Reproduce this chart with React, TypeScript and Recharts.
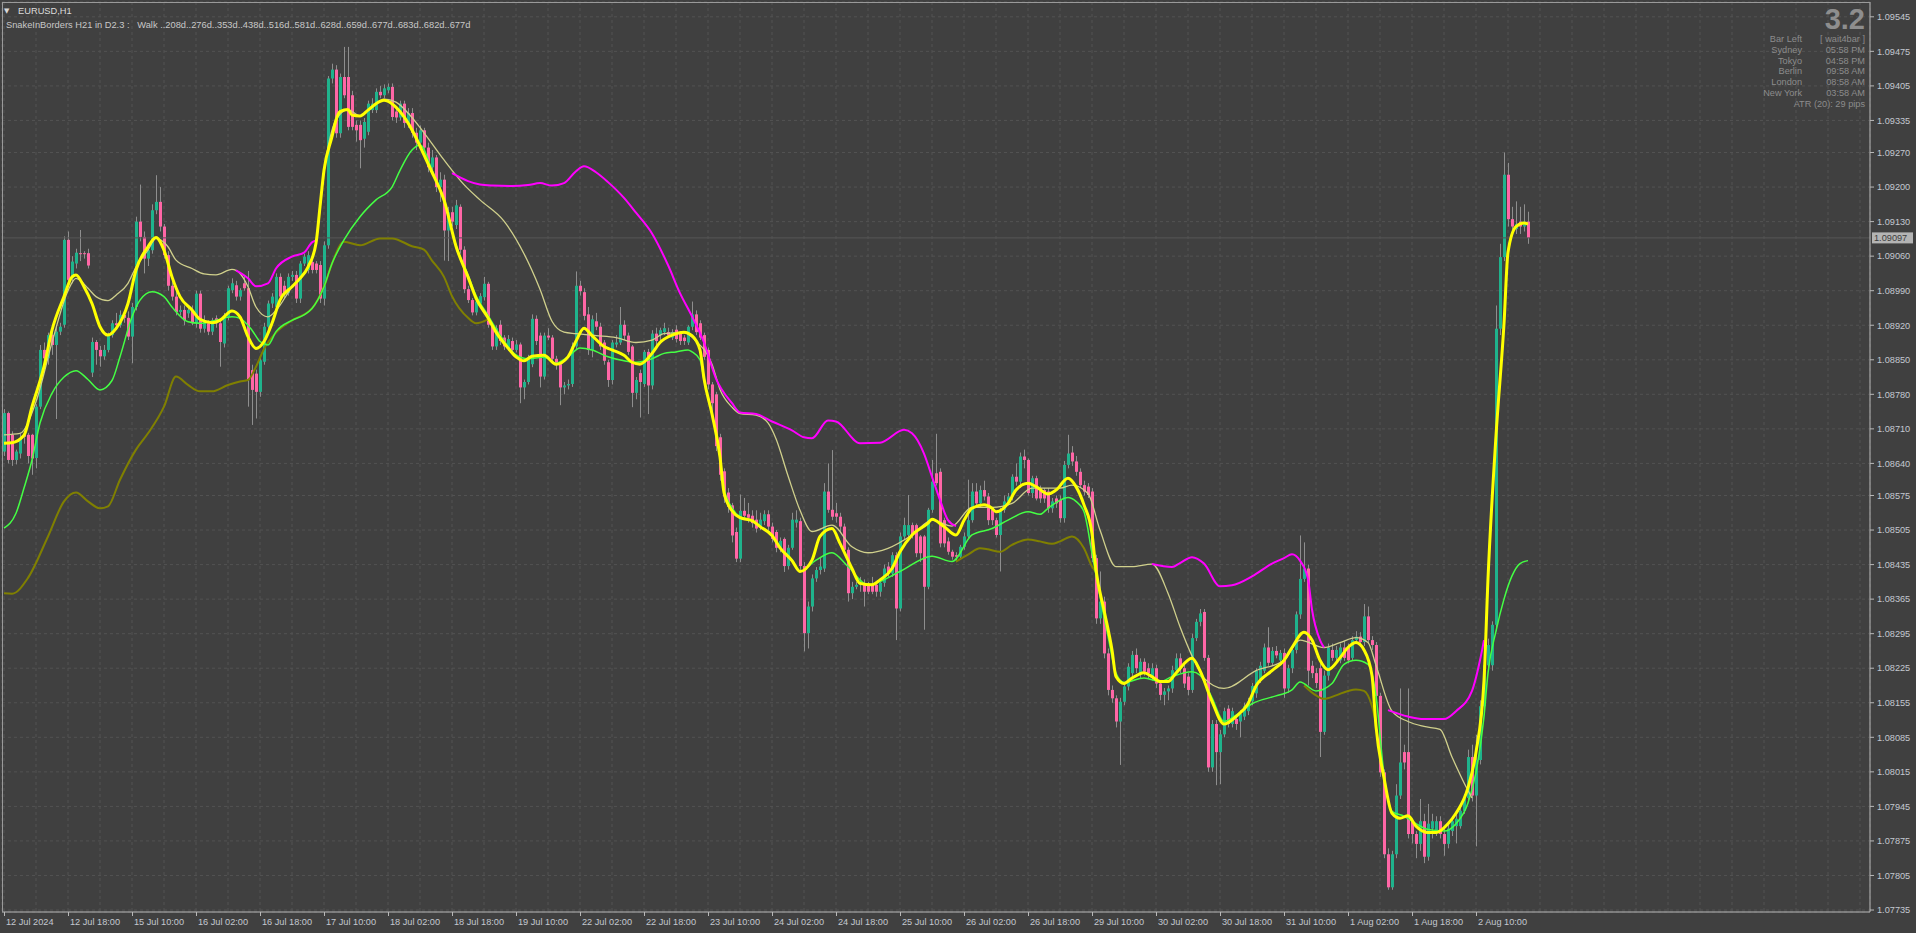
import React from "react";
import { ComposedChart, Bar, Line, XAxis, YAxis, CartesianGrid, ReferenceLine } from "recharts";

// prices are kept in points (0.00001) above BASE
const BASE = 1.07;
const toPrice = (p: number) => Math.round((BASE + p / 100000) * 100000) / 100000;

// hourly candles [open, high, low, close]
const jul12: number[][] = [
  [1664,1750,1655,1742],[1742,1745,1640,1647],[1698,1705,1635,1647],[1647,1668,1638,1664],[1660,1700,1650,1690],[1698,1705,1680,1694],
  [1698,1702,1640,1655],[1698,1700,1617,1650],[1651,1760,1630,1755],[1755,1880,1750,1870],[1870,1885,1845,1853],[1853,1905,1840,1900],
  [1900,1910,1860,1880],[1880,1920,1730,1907],[1907,1925,1900,1917],[1921,2100,1915,2093],[2093,2110,2000,2012],[2015,2060,2005,2049],
  [2045,2075,2035,2067],[2066,2113,2050,2064],[2066,2070,2055,2064],[2066,2075,2035,2041],
];

const jul15to19: number[][] = [
  // 15 Jul
  [1824,1895,1815,1886],[1886,1890,1840,1870],[1870,1878,1836,1857],[1857,1880,1850,1870],[1870,1905,1865,1900],[1900,1930,1895,1924],
  [1924,1945,1915,1920],[1920,1950,1915,1941],[1941,1950,1925,1935],[1935,1948,1890,1897],[1897,1965,1843,1957],[1957,2140,1950,2130],
  [2130,2205,2090,2099],[2099,2110,2025,2055],[2055,2080,2040,2072],[2072,2165,2065,2153],[2153,2224,2145,2170],[2170,2200,2110,2120],
  [2120,2125,2055,2062],[2062,2070,1990,2000],[2000,2020,1970,1978],[1978,1990,1940,1947],[1947,1960,1940,1951],[1951,1960,1920,1930],
  // 16 Jul
  [1944,1958,1935,1951],[1951,1960,1920,1924],[1924,1990,1915,1984],[1984,1990,1905,1913],[1913,1940,1905,1930],[1924,1930,1900,1907],
  [1907,1935,1900,1930],[1934,1940,1915,1924],[1924,1930,1836,1886],[1883,1945,1875,1937],[1937,2000,1930,1995],[1991,2015,1985,2005],
  [2001,2010,1970,1978],[1978,1995,1970,1991],[2005,2020,1990,1995],[1995,2030,1755,1809],[1829,1840,1718,1789],[1822,1830,1731,1785],
  [1785,1855,1775,1849],[1846,1925,1840,1917],[1917,1970,1910,1964],[1964,1985,1955,1978],[1957,2025,1950,2018],[2018,2025,1970,1978],
  // 17 Jul
  [2000,2010,1975,1985],[1985,2025,1980,2018],[2018,2030,2010,2022],[2022,2030,1965,1974],[1974,2050,1965,2045],[2045,2065,2040,2059],
  [2032,2070,2025,2062],[2048,2060,2025,2032],[2045,2050,2025,2032],[2042,2050,1965,1974],[1974,2090,1960,2082],[2082,2425,2075,2420],
  [2420,2450,2410,2438],[2438,2447,2300,2309],[2309,2430,2300,2423],[2423,2484,2380,2386],[2423,2484,2315,2322],[2386,2395,2315,2322],
  [2326,2335,2292,2315],[2326,2335,2238,2295],[2298,2340,2280,2332],[2312,2375,2305,2369],[2356,2380,2350,2369],[2356,2400,2350,2393],
  // 18 Jul
  [2393,2405,2380,2386],[2386,2408,2380,2400],[2396,2410,2390,2403],[2403,2410,2335,2342],[2353,2360,2330,2341],[2341,2375,2335,2369],
  [2369,2375,2320,2330],[2330,2360,2320,2350],[2350,2360,2300,2310],[2310,2320,2275,2290],[2290,2325,2285,2315],[2315,2320,2270,2280],
  [2280,2290,2230,2240],[2240,2275,2225,2260],[2260,2265,2190,2200],[2200,2230,2170,2215],[2215,2225,2051,2112],[2112,2160,2050,2149],
  [2149,2160,2120,2130],[2123,2174,2115,2163],[2160,2165,2065,2073],[2073,2080,1985,1993],[1993,2000,1965,1971],[1971,1975,1940,1946],
  // 19 Jul
  [1946,1972,1940,1968],[1964,1985,1960,1979],[1977,2018,1970,2004],[2004,2008,1915,1921],[1921,1925,1870,1877],[1877,1920,1870,1914],
  [1921,1930,1880,1888],[1895,1900,1870,1877],[1874,1900,1868,1892],[1888,1895,1865,1870],[1870,1890,1865,1881],[1881,1885,1762,1794],
  [1794,1810,1770,1805],[1805,1860,1800,1852],[1841,1942,1835,1933],[1933,1940,1880,1888],[1899,1905,1794,1816],[1816,1905,1810,1899],
  [1899,1914,1890,1895],[1895,1900,1845,1852],[1852,1858,1830,1841],[1841,1845,1758,1794],[1794,1805,1780,1798],[1798,1810,1790,1801],
];

const jul22to26: number[][] = [
  // 22 Jul
  [1801,1885,1795,1877],[1877,2029,1870,2000],[2000,2010,1980,1989],[1987,1995,1930,1939],[1942,1957,1860,1870],[1870,1940,1855,1932],
  [1928,1945,1910,1917],[1917,1925,1870,1877],[1885,1890,1840,1848],[1845,1850,1795,1809],[1809,1890,1800,1885],[1881,1900,1875,1885],
  [1885,1957,1880,1921],[1921,1930,1890,1899],[1899,1905,1860,1866],[1877,1880,1754,1783],[1783,1815,1770,1809],[1823,1830,1733,1805],
  [1801,1870,1795,1866],[1866,1872,1740,1798],[1798,1910,1790,1903],[1903,1915,1880,1888],[1900,1915,1885,1910],[1906,1925,1900,1914],
  // 23 Jul
  [1906,1915,1895,1899],[1895,1912,1890,1906],[1911,1920,1885,1892],[1903,1908,1880,1888],[1895,1900,1880,1888],[1885,1920,1880,1917],
  [1917,1968,1910,1942],[1942,1950,1900,1906],[1924,1930,1890,1895],[1900,1905,1850,1856],[1870,1875,1790,1800],[1800,1805,1740,1762],
  [1780,1785,1665,1675],[1693,1700,1605,1617],[1624,1630,1560,1573],[1581,1590,1540,1552],[1555,1560,1480,1494],[1501,1510,1440,1447],
  [1447,1577,1440,1544],[1544,1570,1525,1534],[1537,1560,1520,1530],[1534,1545,1510,1519],[1526,1545,1500,1508],[1512,1540,1505,1526],
  // 24 Jul
  [1523,1545,1515,1537],[1537,1545,1505,1512],[1512,1520,1480,1487],[1501,1505,1460,1469],[1469,1490,1460,1483],[1487,1490,1420,1432],
  [1432,1475,1425,1469],[1469,1540,1465,1526],[1520,1545,1510,1526],[1523,1530,1420,1432],[1432,1440,1259,1296],[1296,1360,1265,1350],
  [1350,1415,1340,1407],[1407,1430,1400,1424],[1424,1450,1415,1431],[1427,1600,1420,1583],[1583,1640,1540,1546],[1546,1667,1525,1532],
  [1539,1560,1520,1532],[1532,1540,1500,1512],[1512,1518,1455,1465],[1465,1470,1360,1377],[1377,1400,1365,1390],[1390,1400,1385,1394],
  // 25 Jul
  [1394,1410,1380,1398],[1397,1405,1350,1380],[1394,1400,1375,1380],[1394,1410,1375,1380],[1394,1400,1370,1380],[1380,1405,1370,1398],
  [1398,1435,1390,1427],[1431,1440,1410,1417],[1417,1460,1410,1454],[1454,1460,1282,1346],[1346,1500,1340,1492],[1492,1530,1485,1515],
  [1495,1576,1490,1515],[1515,1520,1488,1495],[1515,1518,1450,1458],[1492,1495,1440,1458],[1492,1495,1303,1390],[1390,1550,1385,1546],
  [1546,1647,1540,1603],[1620,1700,1595,1600],[1623,1630,1470,1478],[1525,1530,1470,1478],[1482,1490,1455,1461],[1461,1465,1445,1451],
  // 26 Jul
  [1454,1460,1440,1451],[1451,1475,1445,1471],[1471,1500,1465,1492],[1492,1607,1488,1525],[1525,1600,1520,1583],[1583,1600,1555,1559],
  [1559,1595,1550,1586],[1586,1605,1565,1573],[1573,1580,1515,1525],[1546,1550,1515,1525],[1525,1530,1490,1495],[1495,1550,1421,1546],
  [1546,1575,1540,1563],[1563,1580,1555,1573],[1573,1618,1565,1613],[1613,1640,1595,1603],[1603,1662,1590,1654],[1654,1668,1630,1647],
  [1647,1650,1575,1580],[1580,1615,1570,1610],[1610,1615,1565,1569],[1590,1595,1560,1569],[1586,1590,1560,1569],[1583,1590,1540,1549],
];

const jul29toAug2: number[][] = [
  // 29 Jul
  [1549,1570,1540,1563],[1569,1575,1550,1559],[1566,1575,1520,1529],[1529,1645,1520,1637],[1637,1698,1630,1660],[1662,1675,1635,1644],
  [1644,1655,1615,1623],[1623,1630,1590,1596],[1596,1605,1575,1583],[1593,1600,1570,1576],[1583,1590,1440,1448],[1448,1455,1315,1326],
  [1326,1421,1315,1360],[1360,1370,1245,1255],[1255,1265,1170,1181],[1181,1190,1155,1164],[1164,1170,1105,1117],[1117,1165,1029,1157],
  [1157,1195,1150,1188],[1188,1235,1180,1228],[1215,1260,1205,1252],[1252,1265,1215,1225],[1215,1245,1205,1238],[1238,1245,1210,1218],
  // 30 Jul
  [1225,1235,1205,1215],[1208,1235,1200,1225],[1225,1232,1185,1194],[1194,1200,1160,1171],[1171,1185,1150,1178],[1178,1190,1160,1184],
  [1184,1230,1175,1221],[1221,1255,1215,1245],[1245,1255,1215,1225],[1225,1232,1185,1194],[1208,1215,1170,1181],[1181,1295,1175,1286],
  [1286,1325,1280,1319],[1319,1345,1310,1336],[1339,1345,1240,1246],[1246,1252,1015,1024],[1024,1120,1015,1112],[1112,1120,988,1055],
  [1055,1100,990,1091],[1091,1145,1085,1138],[1143,1150,1105,1112],[1112,1145,1105,1138],[1122,1130,1100,1112],[1117,1140,1085,1132],
  // 31 Jul
  [1127,1155,1120,1148],[1138,1165,1130,1158],[1158,1195,1150,1189],[1174,1225,1165,1220],[1200,1238,1195,1230],[1220,1275,1215,1267],
  [1267,1308,1230,1236],[1236,1268,1230,1260],[1260,1270,1245,1251],[1241,1262,1235,1256],[1256,1265,1165,1184],[1184,1232,1175,1225],
  [1225,1270,1215,1262],[1262,1340,1255,1334],[1334,1494,1325,1406],[1406,1480,1400,1427],[1427,1435,1190,1220],[1230,1240,1205,1215],
  [1215,1225,1185,1195],[1225,1235,1045,1096],[1096,1220,1090,1210],[1210,1275,1200,1267],[1262,1275,1240,1246],[1246,1270,1240,1262],
  // 1 Aug
  [1241,1275,1235,1267],[1267,1280,1240,1246],[1267,1275,1235,1241],[1246,1290,1240,1282],[1282,1300,1275,1289],[1289,1298,1270,1278],
  [1278,1355,1270,1330],[1330,1350,1275,1282],[1282,1290,1262,1272],[1272,1278,1160,1169],[1169,1175,1005,1014],[1014,1020,840,848],
  [848,860,776,781],[781,855,776,848],[848,990,840,967],[967,1184,960,1034],[1055,1070,1020,1034],[1055,1184,880,889],
  [915,920,870,889],[889,895,840,869],[869,960,855,915],[915,930,830,843],[843,950,835,910],[900,930,880,915],
  // 2 Aug
  [895,925,885,915],[915,925,880,889],[889,900,845,869],[869,910,860,900],[895,925,885,915],[905,935,870,920],
  [905,945,900,936],[936,970,930,962],[962,1060,955,1045],[1045,1070,955,967],[967,1090,864,1039],[1039,1160,1030,1148],
  [1148,1240,1140,1231],[1231,1285,1225,1272],[1231,1320,1220,1313],[1313,1960,1300,1913],[1913,2085,1900,2058],[2058,2270,2050,2225],
  [2225,2249,2120,2135],[2135,2160,2100,2120],[2115,2171,2105,2125],[2130,2160,2105,2120],[2120,2165,2110,2130],[2130,2150,2085,2097],
];

// indicator lines: [bar index, points]
const snakeLine: number[][] = [
  [0,1681],[2,1682],[5,1697],[7,1755],[10,1836],[12,1910],[15,1978],[17,2018],[18,2022],[20,1998],[22,1964],[24,1917],[26,1900],
  [28,1913],[31,1964],[33,2032],[36,2079],[38,2098],[40,2072],[42,2018],[44,1978],[47,1951],[49,1932],[52,1925],[54,1930],[57,1949],
  [59,1937],[61,1897],[63,1873],[65,1887],[67,1924],[69,1971],[72,1998],[74,2015],[76,2038],[78,2086],[79,2160],[80,2234],[82,2302],
  [83,2336],[84,2353],[86,2357],[87,2346],[89,2344],[91,2356],[93,2369],[95,2376],[97,2369],[99,2353],[101,2330],[103,2300],[105,2265],
  [107,2230],[109,2195],[110,2174],[113,2080],[116,2018],[118,1975],[121,1935],[123,1906],[126,1874],[128,1856],[130,1848],[132,1857],
  [135,1859],[138,1841],[141,1856],[143,1888],[145,1914],[147,1899],[150,1877],[152,1870],[155,1859],[157,1845],[159,1841],[162,1863],
  [164,1885],[167,1900],[170,1906],[172,1899],[174,1870],[175,1812],[177,1740],[179,1653],[180,1581],[182,1544],[184,1530],[187,1524],
  [189,1512],[192,1494],[194,1469],[197,1443],[199,1421],[202,1444],[204,1492],[207,1508],[209,1478],[212,1427],[214,1397],[217,1394],
  [219,1404],[222,1427],[224,1461],[227,1495],[231,1519],[232,1527],[235,1512],[238,1495],[240,1525],[242,1549],[245,1556],[247,1549],
  [248,1542],[251,1559],[253,1586],[256,1600],[258,1593],[261,1578],[263,1586],[266,1610],[268,1593],[270,1556],[272,1498],[273,1424],
  [275,1343],[277,1262],[278,1208],[280,1194],[282,1205],[285,1216],[287,1208],[289,1198],[291,1198],[293,1215],[297,1245],[299,1220],
  [302,1158],[305,1112],[308,1127],[311,1153],[313,1189],[317,1220],[320,1241],[322,1267],[325,1298],[327,1282],[329,1241],[331,1222],
  [334,1246],[336,1267],[338,1277],[340,1262],[342,1210],[343,1107],[345,1003],[347,931],[349,921],[351,926],[353,905],[356,892],
  [358,892],[361,910],[363,931],[366,983],[368,1055],[370,1200],[371,1406],[373,1696],[375,1923],[376,2068],[378,2120],[380,2127],[381,2125],
];

const borderLine: number[][] = [
  [0,1698],[4,1701],[8,1765],[12,1885],[16,1990],[18,2015],[21,1995],[23,1978],[26,1970],[28,1981],[31,2005],[33,2038],[36,2072],
  [38,2096],[41,2079],[43,2052],[47,2035],[50,2024],[53,2022],[57,2033],[59,2025],[61,1998],[63,1957],[66,1937],[68,1950],[72,1998],
  [76,2038],[78,2086],[80,2230],[83,2336],[86,2357],[89,2344],[92,2362],[95,2378],[98,2372],[101,2350],[105,2310],[110,2255],[115,2205],
  [119,2174],[125,2131],[130,2065],[134,1993],[137,1928],[140,1906],[143,1903],[148,1899],[153,1895],[158,1885],[162,1890],[165,1903],
  [170,1905],[173,1888],[177,1841],[179,1790],[182,1754],[184,1741],[188,1738],[191,1722],[193,1690],[196,1615],[199,1545],[202,1502],
  [207,1515],[212,1471],[216,1459],[221,1468],[227,1495],[232,1525],[237,1513],[242,1551],[247,1551],[252,1559],[257,1590],[264,1590],
  [267,1596],[271,1579],[274,1505],[278,1431],[282,1431],[287,1436],[291,1377],[294,1309],[297,1250],[300,1205],[305,1184],[313,1220],
  [320,1241],[324,1282],[330,1267],[334,1277],[338,1287],[341,1277],[343,1231],[347,1138],[351,1117],[355,1107],[359,1101],[362,1045],
  [365,993],[367,962],
];

const greenLine: number[][] = [
  [0,1509],[3,1539],[5,1590],[7,1647],[9,1722],[12,1782],[15,1815],[18,1828],[21,1810],[24,1789],[27,1808],[29,1856],[32,1937],
  [34,1971],[37,1988],[40,1978],[42,1957],[46,1927],[49,1924],[53,1930],[57,1937],[59,1934],[62,1910],[64,1887],[66,1880],[68,1907],
  [72,1930],[75,1941],[77,1954],[80,1998],[82,2045],[85,2093],[89,2140],[93,2174],[97,2200],[99,2234],[102,2275],[104,2285],[107,2235],
  [110,2172],[113,2082],[116,2022],[118,1980],[121,1940],[124,1900],[128,1860],[131,1852],[135,1855],[138,1843],[141,1856],[144,1874],
  [147,1870],[151,1856],[155,1848],[158,1845],[162,1852],[165,1863],[168,1866],[171,1870],[172,1866],[174,1850],[175,1810],[177,1740],
  [179,1653],[180,1590],[182,1550],[184,1532],[187,1525],[189,1513],[192,1495],[194,1470],[197,1445],[199,1421],[203,1444],[207,1459],
  [211,1431],[216,1394],[224,1421],[232,1452],[237,1441],[242,1495],[247,1508],[251,1525],[256,1542],[259,1537],[261,1549],[266,1571],
  [268,1563],[270,1542],[272,1458],[274,1370],[276,1290],[278,1215],[280,1196],[285,1205],[289,1198],[292,1208],[297,1218],[299,1211],
  [302,1165],[305,1117],[308,1130],[312,1153],[318,1169],[322,1181],[324,1197],[328,1179],[332,1194],[335,1233],[338,1241],[341,1233],
  [343,1169],[345,1010],[347,935],[350,925],[353,910],[356,898],[360,895],[363,910],[366,952],[368,1014],[370,1127],[371,1215],[373,1300],
  [375,1365],[377,1412],[379,1437],[381,1443],
];

const oliveA: number[][] = [
  [0,1377],[2,1376],[6,1408],[11,1492],[15,1563],[18,1581],[21,1563],[24,1549],[26,1553],[29,1607],[33,1668],[36,1701],[40,1755],
  [43,1816],[46,1799],[49,1786],[52,1786],[56,1799],[59,1806],[61,1809],[63,1836],[65,1872],[68,1905],[72,1930],[77,1954],[80,1998],
  [82,2045],[85,2089],[89,2082],[94,2096],[97,2096],[102,2080],[105,2073],[107,2051],[110,2018],[112,1979],[116,1935],[118,1924],[121,1932],
];
const oliveB: number[][] = [
  [238,1441],[241,1455],[244,1468],[246,1466],[249,1461],[252,1475],[256,1486],[259,1482],[262,1477],[264,1482],[267,1492],[270,1468],
  [272,1431],[273,1420],
];
const oliveC: number[][] = [
  [325,1190],[328,1170],[330,1163],[333,1170],[336,1179],[338,1182],[340,1179],[342,1148],[343,1115],
];

const magentaA: number[][] = [
  [58,2031],[61,2015],[63,1999],[66,2005],[68,2035],[72,2059],[75,2067],[77,2088],[78,2092],
];
const magentaB: number[][] = [
  [112,2228],[116,2212],[119,2205],[122,2203],[127,2202],[131,2204],[134,2208],[137,2203],[140,2208],[143,2232],[145,2242],[148,2230],
  [151,2210],[155,2178],[158,2148],[162,2106],[166,2042],[169,1985],[172,1938],[175,1885],[178,1812],[182,1762],[184,1743],[188,1740],
  [192,1725],[197,1707],[200,1693],[202,1691],[206,1727],[208,1725],[214,1681],[219,1682],[225,1708],[227,1701],[230,1660],[232,1613],
  [234,1566],[236,1525],[238,1513],
];
const magentaC: number[][] = [
  [287,1436],[292,1430],[294,1438],[297,1450],[300,1437],[304,1391],[307,1393],[312,1411],[317,1437],[320,1448],[322,1456],[324,1443],
  [326,1406],[327,1344],[329,1282],[330,1267],
];
const magentaD: number[][] = [
  [346,1140],[351,1127],[355,1122],[360,1122],[363,1138],[367,1179],[369,1241],[370,1282],
];

const timeLabels = [
  "12 Jul 2024", "12 Jul 18:00", "15 Jul 10:00", "16 Jul 02:00", "16 Jul 18:00", "17 Jul 10:00", "18 Jul 02:00", "18 Jul 18:00",
  "19 Jul 10:00", "22 Jul 02:00", "22 Jul 18:00", "23 Jul 10:00", "24 Jul 02:00", "24 Jul 18:00", "25 Jul 10:00", "26 Jul 02:00",
  "26 Jul 18:00", "29 Jul 10:00", "30 Jul 02:00", "30 Jul 18:00", "31 Jul 10:00", "1 Aug 02:00", "1 Aug 18:00", "2 Aug 10:00",
];

const priceTicks = [
  1.09545, 1.09475, 1.09405, 1.09335, 1.0927, 1.092, 1.0913, 1.0906, 1.0899, 1.0892, 1.0885, 1.0878, 1.0871, 1.0864,
  1.08575, 1.08505, 1.08435, 1.08365, 1.08295, 1.08225, 1.08155, 1.08085, 1.08015, 1.07945, 1.07875, 1.07805, 1.07735,
];

const lastPrice = 1.09097;

const infoRows = [
  ["Bar Left", "[ wait4bar ]"],
  ["Sydney", "05:58 PM"],
  ["Tokyo", "04:58 PM"],
  ["Berlin", "09:58 AM"],
  ["London", "08:58 AM"],
  ["New York", "03:58 AM"],
];

const candles = [...jul12, ...jul15to19, ...jul22to26, ...jul29toAug2];
const rows: any[] = candles.map(([o, h, l, c], i) => ({
  i,
  o: toPrice(o),
  h: toPrice(h),
  l: toPrice(l),
  c: toPrice(c),
  range: [toPrice(l), toPrice(h)],
}));

const lineSets: Record<string, number[][]> = {
  snake: snakeLine, border: borderLine, green: greenLine,
  oliveA, oliveB, oliveC, magentaA, magentaB, magentaC, magentaD,
};
Object.entries(lineSets).forEach(([key, pts]) => {
  pts.forEach(([i, p]) => {
    if (rows[i]) rows[i][key] = toPrice(p);
  });
});

const xTicks: number[] = [];
for (let t = 0; t <= 464; t += 8) xTicks.push(t);

const FONT = "'Liberation Sans', Arial, sans-serif";
const TEXT = "#c4c8d0";

const Candle = (props: any) => {
  const { x, y, width, height, payload } = props;
  if (!payload || y == null) return <g />;
  const top0 = Math.min(y, y + height);
  const hgt = Math.abs(height);
  const cx = Math.round(x + width / 2);
  const { o, h, l, c } = payload;
  const span = h - l || 1e-9;
  const yAt = (v: number) => top0 + ((h - v) / span) * hgt;
  const bTop = yAt(Math.max(o, c));
  const bBot = yAt(Math.min(o, c));
  return (
    <g>
      <line x1={cx + 0.5} x2={cx + 0.5} y1={top0} y2={top0 + hgt} stroke="#8e8e8e" strokeWidth={1} />
      <rect x={cx - 1} y={bTop} width={3} height={Math.max(1, bBot - bTop)} fill={c >= o ? "#1fb38c" : "#ff66a6"} />
    </g>
  );
};

const XTick = (props: any) => {
  const { x, y, payload } = props;
  const idx = payload.value / 16;
  if (!Number.isInteger(idx) || idx >= timeLabels.length) return <g />;
  return (
    <g>
      <line x1={x + 0.5} x2={x + 0.5} y1={y} y2={y + 4} stroke="#b8b8b8" />
      <text x={x + 2} y={y + 12.5} fill={TEXT} fontSize={9.2} fontFamily={FONT}>
        {timeLabels[idx]}
      </text>
    </g>
  );
};

const PriceTag = (props: any) => {
  const vb = props.viewBox || {};
  const right = (vb.x || 0) + (vb.width || 0);
  const y = vb.y || 0;
  return (
    <g>
      <rect x={right + 2} y={y - 5.5} width={41} height={11} fill="#b4b4b4" />
      <text x={right + 4} y={y + 3.5} fill="#3c3c3c" fontSize={9.2} fontFamily={FONT}>
        {lastPrice.toFixed(5)}
      </text>
    </g>
  );
};

const lineProps = { dot: false, activeDot: false, connectNulls: true, type: "monotone" as const, isAnimationActive: false };

export default function App() {
  return (
    <div style={{ position: "absolute", left: 0, top: 0, width: 1916, height: 933, background: "#404040", overflow: "hidden" }}>
      <ComposedChart width={1916} height={933} data={rows} margin={{ top: 2, right: 0, bottom: 0, left: 2 }}>
        <CartesianGrid stroke="#525252" strokeDasharray="3 3" />
        <XAxis
          dataKey="i"
          type="number"
          domain={[-0.5, 466.5]}
          ticks={xTicks}
          interval={0}
          height={21}
          tickSize={0}
          tickMargin={0}
          tickLine={false}
          axisLine={{ stroke: "#b8b8b8" }}
          tick={(p: any) => <XTick {...p} />}
          allowDataOverflow
        />
        <YAxis
          orientation="right"
          domain={[1.07731, 1.09575]}
          ticks={priceTicks}
          interval={0}
          width={46}
          tickSize={4}
          tickMargin={3}
          axisLine={{ stroke: "#b8b8b8" }}
          tickLine={{ stroke: "#b8b8b8" }}
          tick={{ fill: TEXT, fontSize: 9.2, fontFamily: FONT }}
          tickFormatter={(v: number) => v.toFixed(5)}
          allowDataOverflow
        />
        <ReferenceLine y={lastPrice} stroke="#565656" label={<PriceTag />} />
        <Bar dataKey="range" barSize={3} shape={<Candle />} isAnimationActive={false} />
        <Line dataKey="oliveA" stroke="#808000" strokeWidth={2} {...lineProps} />
        <Line dataKey="oliveB" stroke="#808000" strokeWidth={2} {...lineProps} />
        <Line dataKey="oliveC" stroke="#808000" strokeWidth={2} {...lineProps} />
        <Line dataKey="green" stroke="#44ff44" strokeWidth={1.5} {...lineProps} />
        <Line dataKey="border" stroke="#d0d08c" strokeWidth={1.3} {...lineProps} />
        <Line dataKey="magentaA" stroke="#ff00ff" strokeWidth={2} {...lineProps} />
        <Line dataKey="magentaB" stroke="#ff00ff" strokeWidth={2} {...lineProps} />
        <Line dataKey="magentaC" stroke="#ff00ff" strokeWidth={2} {...lineProps} />
        <Line dataKey="magentaD" stroke="#ff00ff" strokeWidth={2} {...lineProps} />
        <Line dataKey="snake" stroke="#ffff00" strokeWidth={3} {...lineProps} />
      </ComposedChart>
      <svg width={1916} height={933} style={{ position: "absolute", left: 0, top: 0, pointerEvents: "none" }}>
        <line x1={2.5} x2={2.5} y1={2} y2={912} stroke="#9a9a9a" />
        <line x1={2} x2={1870} y1={2.5} y2={2.5} stroke="#9a9a9a" />
        <text x={4} y={13} fill="#d8d8d8" fontSize={7} fontFamily="DejaVu Sans">▼</text>
        <text x={18} y={14} fill="#dcdcdc" fontSize={9.3} fontFamily={FONT}>EURUSD,H1</text>
        <text x={6} y={27.5} fill="#c8c8c8" fontSize={9.3} fontFamily={FONT} style={{ whiteSpace: "pre" }}>
          {"SnakeInBorders H21 in D2.3 :   Walk ..208d..276d..353d..438d..516d..581d..628d..659d..677d..683d..682d..677d"}
        </text>
        <text x={1865} y={29} fill="#8e8e8e" fontSize={29} fontWeight="bold" fontFamily={FONT} textAnchor="end">3.2</text>
        {infoRows.map(([k, v], n) => (
          <g key={k}>
            <text x={1802} y={42 + n * 10.8} fill="#8c8c8c" fontSize={9.2} fontFamily={FONT} textAnchor="end">{k}</text>
            <text x={1865} y={42 + n * 10.8} fill="#8c8c8c" fontSize={9.2} fontFamily={FONT} textAnchor="end">{v}</text>
          </g>
        ))}
        <text x={1865} y={42 + 6 * 10.8} fill="#8c8c8c" fontSize={9.2} fontFamily={FONT} textAnchor="end">ATR (20): 29 pips</text>
      </svg>
    </div>
  );
}
